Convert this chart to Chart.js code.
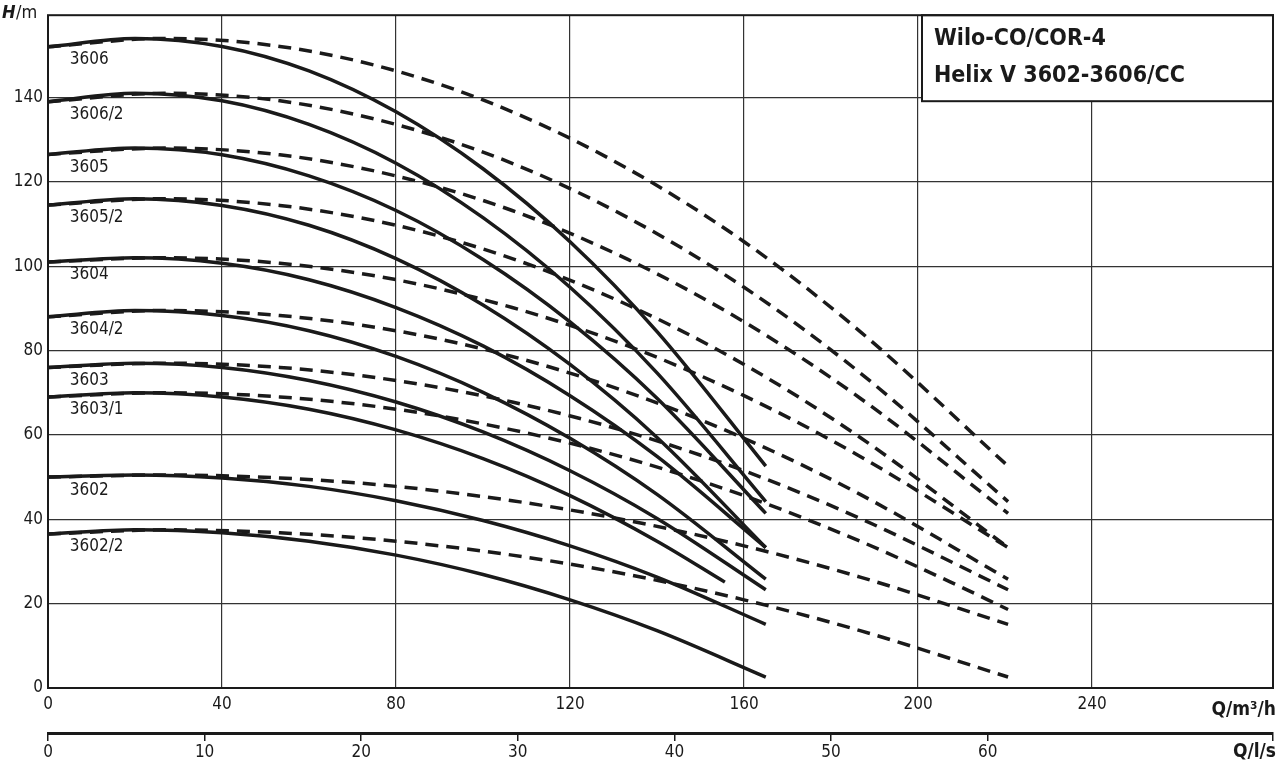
<!DOCTYPE html>
<html>
<head>
<meta charset="utf-8">
<script src="https://cdn.jsdelivr.net/npm/chart.js@4"></script>
<style>
  html, body { margin: 0; padding: 0; background: #fff; }
  #wrap { width: 1280px; height: 769px; }
</style>
</head>
<body>
<div id="wrap"><canvas id="pumpChart"></canvas></div>
<script>
// Flow points (m³/h) for single-curve (solid) and extended (dashed) lines
const qSolid = [0, 20, 40, 60, 80, 100, 120, 140, 165];
const qSolid3603_1 = [0, 20, 40, 60, 80, 100, 120, 140, 155.6];
const qDash = [0, 26.7, 53.3, 80, 106.7, 133.3, 160, 186.7, 220.7];
const qDash3603_1 = [0, 26.7, 53.3, 80, 106.7, 133.3, 160, 186.7, 207.5, 220.7];

// Head values (m)
const pumpNames = ['3606', '3606/2', '3605', '3605/2', '3604', '3604/2', '3603', '3603/1', '3602', '3602/2'];
const h3606   = [152, 154, 152.1, 146.3, 136.6, 123.1, 105.8, 84.5, 52.6];
const h3606_2 = [139, 141, 139.2, 133.6, 124.4, 111.5, 95.0, 74.7, 44.2];
const h3605   = [126.5, 128, 126.4, 121.4, 113.2, 101.6, 86.8, 68.7, 41.4];
const h3605_2 = [114.5, 116, 114.4, 109.7, 101.8, 90.8, 76.7, 59.4, 33.3];
const h3604   = [101, 102, 100.7, 96.8, 90.2, 81.1, 69.3, 54.9, 33.3];
const h3604_2 = [88, 89.5, 88.3, 84.7, 78.6, 70.1, 59.2, 45.9, 25.8];
const h3603   = [76, 77, 76.0, 72.9, 67.8, 60.7, 51.5, 40.2, 23.3];
const h3603_1 = [69, 70, 69.0, 66.1, 61.2, 54.4, 45.6, 34.8, 25.1];
const h3603_1Dash = [69, 70, 69.0, 66.1, 61.2, 54.4, 45.6, 34.8, 25.1, 18.6];
const h3602   = [50, 50.5, 49.8, 47.8, 44.4, 39.7, 33.7, 26.3, 15.1];
const h3602_2 = [36.5, 37.5, 36.8, 34.8, 31.5, 26.9, 20.9, 13.6, 2.6];

const xTicksM3h = [0, 40, 80, 120, 160, 200, 240];
const yTicks = [0, 20, 40, 60, 80, 100, 120, 140];

const FONT = "'DejaVu Sans Condensed', 'DejaVu Sans', sans-serif";

function pts(xs, ys) { return xs.map((x, i) => ({ x: x, y: ys[i] })); }

const curves = [
  [qSolid, h3606, qDash, h3606],
  [qSolid, h3606_2, qDash, h3606_2],
  [qSolid, h3605, qDash, h3605],
  [qSolid, h3605_2, qDash, h3605_2],
  [qSolid, h3604, qDash, h3604],
  [qSolid, h3604_2, qDash, h3604_2],
  [qSolid, h3603, qDash, h3603],
  [qSolid3603_1, h3603_1, qDash3603_1, h3603_1Dash],
  [qSolid, h3602, qDash, h3602],
  [qSolid, h3602_2, qDash, h3602_2]
];

const datasets = [];
curves.forEach(c => {
  datasets.push({ data: pts(c[2], c[3]), borderDash: [13, 8], borderWidth: 3.5 });
  datasets.push({ data: pts(c[0], c[1]), borderWidth: 3.5 });
});
datasets.forEach(d => {
  d.showLine = true;
  d.borderColor = '#1a1a1a';
  d.pointRadius = 0;
  d.cubicInterpolationMode = 'monotone';
  d.fill = false;
});

const decorPlugin = {
  id: 'decor',
  afterDatasetsDraw(chart) {
    const ctx = chart.ctx;
    const a = chart.chartArea;
    const x = chart.scales.x, y = chart.scales.y;
    ctx.save();
    // curve labels
    ctx.fillStyle = '#1a1a1a';
    ctx.font = '17px ' + FONT;
    ctx.textBaseline = 'middle';
    pumpNames.forEach((n, i) => {
      ctx.fillText(n, x.getPixelForValue(5), y.getPixelForValue(curves[i][1][0]) + 13);
    });
    // title box
    const bx = 922, by = a.top, bw = a.right - 922, bh = 86;
    ctx.fillStyle = '#fff';
    ctx.fillRect(bx, by, bw, bh);
    ctx.strokeStyle = '#1a1a1a';
    ctx.lineWidth = 2;
    ctx.strokeRect(bx, by, bw, bh);
    ctx.fillStyle = '#1a1a1a';
    ctx.font = 'bold 23px ' + FONT;
    ctx.fillText('Wilo-CO/COR-4', bx + 12, by + 24);
    ctx.fillText('Helix V 3602-3606/CC', bx + 12, by + 61);
    // plot frame
    ctx.strokeRect(a.left, a.top, a.right - a.left, a.bottom - a.top);
    // axis titles
    ctx.font = 'bold italic 18px ' + FONT;
    ctx.textBaseline = 'middle';
    ctx.fillText('H', 2, 13);
    ctx.font = '18px ' + FONT;
    ctx.fillText('/m', 16, 13);
    ctx.textAlign = 'right';
    ctx.font = 'bold 19px ' + FONT;
    ctx.fillText('Q/m³/h', 1276, 710);
    ctx.fillText('Q/l/s', 1276, 752);
    ctx.restore();
  }
};

new Chart(document.getElementById('pumpChart'), {
  type: 'scatter',
  data: { datasets: datasets },
  options: {
    responsive: true,
    maintainAspectRatio: false,
    animation: false,
    layout: { padding: { top: 2, right: 7, left: 0, bottom: 0 } },
    plugins: { legend: { display: false }, tooltip: { enabled: false } },
    scales: {
      x: {
        type: 'linear', position: 'bottom', min: 0, max: 281.6,
        afterFit: s => { s.height = 45; },
        afterBuildTicks: s => { s.ticks = xTicksM3h.map(v => ({ value: v })); },
        ticks: { color: '#1a1a1a', font: { family: FONT, size: 17 }, padding: 6 },
        grid: { color: '#333', lineWidth: 1.2, tickLength: 0 },
        border: { display: false }
      },
      x2: {
        type: 'linear', position: 'bottom', min: 0, max: 281.6 / 3.6,
        afterFit: s => { s.height = 36; },
        ticks: { stepSize: 10, color: '#1a1a1a', font: { family: FONT, size: 17 }, padding: 1,
                 callback: v => (v <= 70 ? v : '') },
        grid: { drawOnChartArea: false, color: '#1a1a1a', tickLength: 8, lineWidth: 1.5 },
        border: { display: true, color: '#1a1a1a', width: 3 }
      },
      y: {
        type: 'linear', min: 0, max: 159.5,
        afterFit: s => { s.width = 48; },
        afterBuildTicks: s => { s.ticks = yTicks.map(v => ({ value: v })); },
        ticks: { color: '#1a1a1a', font: { family: FONT, size: 17 }, padding: 5 },
        grid: { color: '#333', lineWidth: 1.2, tickLength: 0 },
        border: { display: false }
      }
    }
  },
  plugins: [decorPlugin]
});
</script>
</body>
</html>
